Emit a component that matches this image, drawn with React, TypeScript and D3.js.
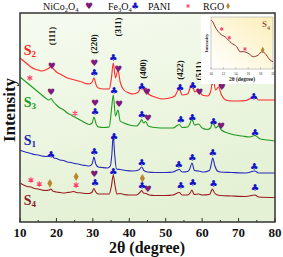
import React from 'react';
import * as d3 from 'd3';

const W = 283, H = 257;
const xTicks = [10, 20, 30, 40, 50, 60, 70, 80];
const insetTicks = [10, 12, 14, 16, 18, 20];

// [2θ, intensity (a.u.)]
const S2: [number, number][] = [[10,164],[11,161],[12,158],[13,155],[14,153],[15,152],[16,151],[17,152],[18,154],[18.5,155.5],[19.2,153],[20,150],[21,148],[22,146],[23,144],[24,143],[25,142],[26,141],[27,140],[28,138.5],[29,138],[29.8,140],[30.3,144],[30.9,137],[31.5,134],[33,133],[34.5,133],[35.1,144],[35.6,159],[36.2,144],[36.9,152],[37.5,140],[38.5,132],[40,129],[41,128],[42.5,130],[43.4,136],[44,132],[44.6,134],[45.3,128],[47,125],[49,123],[51,124],[52.5,126],[53.7,133],[54.5,127],[56,128],[57.2,138],[58,130],[59,133],[60,127],[61.5,126],[62.3,130],[63,143],[63.7,132],[64.5,135],[65.3,127],[66.5,122],[68,121],[70,121],[72,121.5],[74.5,125.5],[75.5,122],[77,122],[80,122]];
const S3: [number, number][] = [[10,145],[11,142],[12,139],[13,136],[14,133],[15,130],[16,127],[17,124],[18,122],[18.5,123.5],[19.2,120],[20,117],[21,114],[22,112],[23,109],[24,107],[25,105],[26,103],[27,101],[28,99],[29,97.5],[29.8,99],[30.3,105],[30.9,98],[31.5,95],[33,94.5],[34.5,95],[35.1,112],[35.6,127],[36.2,106],[36.9,112],[37.5,101],[38.5,99],[40,97],[42,96],[43,100],[43.4,102.5],[43.9,99],[44.5,100.5],[45.2,96],[47,94.5],[50,94],[52,94],[53.7,97.5],[54.5,94.5],[56,95],[56.6,98],[57.2,103],[57.9,97],[59,98],[60,94],[61.5,92.5],[62.3,94],[63,100.5],[63.7,94],[64.5,96],[65.3,92],[67,89],[69,87],[71,86],[73,85],[74.5,86.5],[76,83],[78,82],[80,81]];
const S1: [number, number][] = [[10,72],[11,70.5],[12,69.5],[13,68.5],[14,67.5],[15,67],[16,66],[17,65.5],[17.8,66],[18.5,67.5],[19.3,64],[20,63.5],[21,62],[22,61.5],[23,60],[24,59.5],[25,58.5],[26,58],[27,57],[28,56.5],[29,56],[29.8,58],[30.3,65],[30.8,58],[31.5,55],[32.5,54.5],[34,54],[34.8,56],[35.2,67],[35.6,87],[36,67],[36.5,53],[37.5,52.5],[39,51.5],[41,51],[42.6,52],[43.4,55],[44,51.5],[45,50],[47,49.5],[50,49.5],[52,50],[53.7,52.5],[54.5,50],[56,50.5],[56.6,53],[57.2,59],[57.9,51.5],[59,51],[60.5,50],[62,51.5],[62.4,56],[62.9,64],[63.5,56],[64.2,51],[65,50],[68,49.5],[72,49],[74.5,51],[75.5,49],[80,49]];
const S4: [number, number][] = [[10,39],[11,37],[12,35.5],[13,35],[14,33.5],[15,33],[16,32],[17,31.5],[18,32],[18.5,33],[19,31],[20,30],[21,29.5],[22,29],[23,29.5],[24,30],[24.7,30.5],[25.5,29.5],[27,29],[28,28.5],[29,28.5],[29.8,30],[30.3,33.5],[30.8,30],[31.5,28],[33,28],[34.5,28],[35.1,36],[35.6,47],[36.1,36],[36.6,28],[37.5,28.5],[38.5,27.5],[40,27],[42,27],[42.9,29.5],[43.4,31.5],[43.9,29],[44.6,28.5],[45.5,27],[47,26.5],[50,26.5],[52,27],[53.7,29.5],[54.5,27],[56,27],[56.7,29],[57.2,32],[57.8,27.5],[59,28],[60,27],[62,27.5],[62.4,30],[62.8,33],[63.4,29],[64.2,27],[65,26.5],[68,26],[72,25.5],[74.5,27],[75.5,25],[80,24.5]];
const insetCurve: [number, number][] = [[10,49],[10.27,47.3],[10.65,42.3],[11.18,37.3],[11.73,34],[12.26,32.3],[12.79,29],[13.34,25.7],[14.15,22.3],[14.68,17.3],[15.21,17.3],[16.02,15.7],[16.82,12.3],[17.63,14],[18.18,17.3],[18.71,15.7],[19.52,9],[20,7.3]];

const hearts: [number, number][] = [[18.7,156],[30.4,158.7],[37.0,152.7],[44.8,130.3],[59.2,130.3],[65.4,134.7],[18.5,129.7],[30.6,119.3],[37.2,118],[45.1,104.3],[65.2,96.3],[30.4,47.7],[45.1,32.7]];
const clubs: [number, number][] = [[30.4,150],[35.6,164.3],[43.4,135.3],[53.9,134.7],[57.4,137],[62.8,141],[74.2,126],[30.6,110.3],[35.8,131.3],[43.4,108],[54.1,102.7],[57.3,104.3],[63.1,100.3],[74.5,89.3],[18.5,68],[30.4,71],[35.8,85.3],[43.4,60],[53.6,58],[57.3,65],[62.9,69.3],[74.3,55.3],[30.6,39.3],[35.6,50.3],[43.5,37],[54.1,37],[57.4,39.3],[63.1,38.7],[74.5,34.3]];
const stars: [number, number][] = [[12.7,144],[25.1,108.7],[13.0,42],[15.3,38],[25.4,37]];
const diamonds: [number, number][] = [[18.2,38.7],[25.4,45.3],[43.6,43.7]];
const insetStars: [number, number][] = [[11.73,40],[12.95,31.3],[15.48,20]];
const insetDiamonds: [number, number][] = [[18.34,19]];
const millers: { label: string; x: number; y: number }[] = [
  { label: '(111)', x: 18.7, y: 186 },
  { label: '(220)', x: 30.4, y: 178 },
  { label: '(311)', x: 37.0, y: 195 },
  { label: '(400)', x: 43.8, y: 153 },
  { label: '(422)', x: 53.9, y: 152 },
  { label: '(511)', x: 59.2, y: 151 },
];
const seriesLabels = [
  { name: 'S', sub: '2', x: 11.0, y: 172, color: '#ff2222' },
  { name: 'S', sub: '3', x: 11.0, y: 120, color: '#1a9a1a' },
  { name: 'S', sub: '1', x: 11.0, y: 82, color: '#1c1cb0' },
  { name: 'S', sub: '4', x: 11.0, y: 22, color: '#8b1a2a' },
];

const HEART = '#7e1a78', CLUB = '#1414c8', STAR = '#ff3d6a', DIAM = '#b8862b';

export default function App() {
  const x = d3.scaleLinear().domain([10, 80]).range([20, 275]);
  const y = d3.scaleLinear().domain([0, 209]).range([222, 13]);
  const line = d3.line<[number, number]>().x(d => x(d[0])).y(d => y(d[1])).curve(d3.curveMonotoneX);

  const ix = d3.scaleLinear().domain([10, 20]).range([211, 273]);
  const iy = d3.scaleLinear().domain([0, 52]).range([69, 17]);
  const iline = d3.line<[number, number]>().x(d => ix(d[0])).y(d => iy(d[1])).curve(d3.curveMonotoneX);

  const star = d3.symbol(d3.symbolAsterisk, 22)()!;
  const diam = d3.symbol(d3.symbolDiamond, 22)()!;
  const istar = d3.symbol(d3.symbolAsterisk, 10)()!;
  const idiam = d3.symbol(d3.symbolDiamond, 12)()!;

  const minor = d3.range(15, 80, 10);
  const serif = '"Liberation Serif", "Times New Roman", serif';
  const sym = '"DejaVu Sans", sans-serif';

  return (
    <svg width={W} height={H} style={{ position: 'absolute', left: 0, top: 0, background: '#fff' }} fontFamily={serif}>
      <defs>
        <linearGradient id="bg" x1="0" y1="0" x2="0.3" y2="1">
          <stop offset="0" stopColor="#f6fbf0" />
          <stop offset="1" stopColor="#e4f1d4" />
        </linearGradient>
        <linearGradient id="ibg" x1="1" y1="0" x2="0" y2="1">
          <stop offset="0" stopColor="#fbefb8" />
          <stop offset="1" stopColor="#ffffff" />
        </linearGradient>
      </defs>
      <rect x={20} y={13} width={255} height={209} fill="url(#bg)" />

      {/* legend */}
      <g fontSize={10} fill="#111">
        <text x={43} y={9.5}>NiCo<tspan fontSize={6.5} dy={2.5}>2</tspan><tspan dy={-2.5}>O</tspan><tspan fontSize={6.5} dy={2.5}>4</tspan></text>
        <text x={89} y={6} fontFamily={sym} fontSize={9} fill={HEART} textAnchor="middle" dominantBaseline="central">♥</text>
        <text x={108} y={9.5}>Fe<tspan fontSize={6.5} dy={2.5}>3</tspan><tspan dy={-2.5}>O</tspan><tspan fontSize={6.5} dy={2.5}>4</tspan></text>
        <text x={135} y={6} fontFamily={sym} fontSize={9} fill={CLUB} textAnchor="middle" dominantBaseline="central">♣</text>
        <text x={148} y={9.5}>PANI</text>
        <path d={istar} transform="translate(188,6)" stroke={STAR} strokeWidth={1} fill="none" />
        <text x={203} y={9.5}>RGO</text>
        <path d={idiam} transform="translate(228,6)" fill={DIAM} />
      </g>

      {/* curves */}
      <path d={line(S2)!} fill="none" stroke="#ff2a2a" strokeWidth={1.1} />
      <path d={line(S3)!} fill="none" stroke="#1f9a1f" strokeWidth={1.1} />
      <path d={line(S1)!} fill="none" stroke="#2a2ab8" strokeWidth={1.1} />
      <path d={line(S4)!} fill="none" stroke="#9a1c22" strokeWidth={1.1} />

      {/* markers */}
      {hearts.map((d, i) => (
        <text key={'h' + i} x={x(d[0])} y={y(d[1])} fontFamily={sym} fontSize={9} fill={HEART} textAnchor="middle" dominantBaseline="central">♥</text>
      ))}
      {clubs.map((d, i) => (
        <text key={'c' + i} x={x(d[0])} y={y(d[1])} fontFamily={sym} fontSize={9.5} fill={CLUB} textAnchor="middle" dominantBaseline="central">♣</text>
      ))}
      {stars.map((d, i) => (
        <path key={'s' + i} d={star} transform={`translate(${x(d[0])},${y(d[1])})`} stroke={STAR} strokeWidth={1.1} fill="none" />
      ))}
      {diamonds.map((d, i) => (
        <path key={'d' + i} d={diam} transform={`translate(${x(d[0])},${y(d[1])})`} fill={DIAM} />
      ))}
      {millers.map((m, i) => (
        <text key={'m' + i} transform={`translate(${x(m.x)},${y(m.y)}) rotate(-90)`} fontSize={9} fontWeight="bold" textAnchor="middle" dominantBaseline="central" fill="#111">{m.label}</text>
      ))}
      {seriesLabels.map((s, i) => (
        <text key={'l' + i} x={x(s.x)} y={y(s.y)} fontSize={14} fontWeight="bold" fill={s.color} dominantBaseline="central">{s.name}<tspan fontSize={9} dy={4}>{s.sub}</tspan></text>
      ))}

      {/* inset */}
      <rect x={201} y={15} width={75} height={69} fill="#fff" />
      <rect x={211} y={17} width={62} height={52} fill="url(#ibg)" stroke="#999" strokeWidth={0.5} />
      <path d={iline(insetCurve)!} fill="none" stroke="#8b1a22" strokeWidth={0.9} />
      {insetStars.map((d, i) => (
        <path key={'is' + i} d={istar} transform={`translate(${ix(d[0])},${iy(d[1])})`} stroke={STAR} strokeWidth={1} fill="none" />
      ))}
      {insetDiamonds.map((d, i) => (
        <path key={'id' + i} d={idiam} transform={`translate(${ix(d[0])},${iy(d[1])})`} fill={DIAM} />
      ))}
      {insetTicks.map(t => (
        <g key={'it' + t}>
          <line x1={ix(t)} x2={ix(t)} y1={69} y2={67.5} stroke="#555" strokeWidth={0.4} />
          <text x={ix(t)} y={74.5} fontSize={3.5} textAnchor="middle" fill="#222">{t}</text>
        </g>
      ))}
      <text x={242} y={80.5} fontSize={5.5} fontWeight="bold" textAnchor="middle" fill="#222">2θ (degree)</text>
      <text transform="translate(207.5,43) rotate(-90)" fontSize={5} fontWeight="bold" textAnchor="middle" fill="#222">Intensity</text>
      <text x={262} y={27} fontSize={9} fill="#8b1a2a">S<tspan fontSize={6} dy={2.5}>4</tspan></text>

      {/* frame & axes */}
      <rect x={20} y={13} width={255} height={209} fill="none" stroke="#333" strokeWidth={1.5} />
      {xTicks.map(t => (
        <g key={'t' + t}>
          <line x1={x(t)} x2={x(t)} y1={222} y2={218} stroke="#333" strokeWidth={1} />
          <text x={x(t)} y={236.5} fontSize={13} fontWeight="bold" textAnchor="middle" fill="#111">{t}</text>
        </g>
      ))}
      {minor.map(t => (
        <line key={'mt' + t} x1={x(t)} x2={x(t)} y1={222} y2={220} stroke="#333" strokeWidth={1} />
      ))}
      <text x={147} y={252.5} fontSize={16} fontWeight="bold" textAnchor="middle" fill="#111">2θ (degree)</text>
      <text transform="translate(9.5,110) rotate(-90)" fontSize={17} fontWeight="bold" textAnchor="middle" dominantBaseline="central" fill="#111">Intensity</text>
    </svg>
  );
}
